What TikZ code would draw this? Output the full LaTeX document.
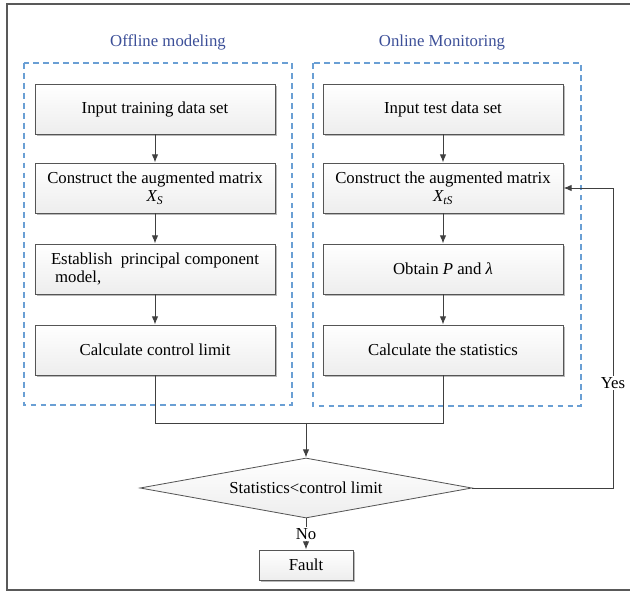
\documentclass[tikz,border=0pt]{standalone}
\usepackage{fontspec}
\setmainfont{Liberation Serif}
\usetikzlibrary{shapes.geometric,shadows,arrows.meta}

\begin{document}
\begin{tikzpicture}[x=0.03cm, y=-0.03cm,
  font=\fontsize{14.3}{15.5}\selectfont,
  stepbox/.style={draw=boxline, line width=0.7pt, top color=white, bottom color=gray!14,
    minimum width=7.2cm, minimum height=1.5cm, align=center, inner sep=2pt,
    drop shadow={shadow xshift=0.07cm, shadow yshift=-0.07cm, fill=gray!55, opacity=1}},
  groupbox/.style={draw=grpblue, line width=1.5pt, dash pattern=on 5pt off 3.5pt},
  grouptitle/.style={text=titleblue},
  conn/.style={draw=lineg, line width=0.8pt},
  arr/.style={conn, -{Latex[length=7pt, width=5.5pt]}}]

  % --- Farben ---
  \definecolor{boxline}{HTML}{555555}
  \definecolor{lineg}{HTML}{404040}
  \definecolor{grpblue}{HTML}{6A9FD4}
  \definecolor{titleblue}{HTML}{3C4F98}

  % --- Rahmen ---
  \useasboundingbox (0,0) rectangle (630,593);
  \draw[gray!70!black, line width=1.1pt] (632,4) -- (7,4) -- (7,590) -- (632,590);

  % --- Gruppen ---
  \draw[groupbox] (24,63) rectangle (292,405);
  \draw[groupbox] (313,63) rectangle (581,406);
  \node[grouptitle] (offtitle) at (168,42) {Offline modeling};
  \node[grouptitle] (ontitle) at (442,42) {Online Monitoring};

  % --- Offline ---
  \node[stepbox] (off1) at (155,109) {Input training data set};
  \node[stepbox] (off2) at (155,188) {Construct the augmented matrix\\ \textit{X\textsubscript{S}}};
  \node[stepbox, align=left] (off3) at (155,269) {Establish \ principal component\\ \ model,};
  \node[stepbox] (off4) at (155,350) {Calculate control limit};

  % --- Online ---
  \node[stepbox] (on1) at (443,109) {Input test data set};
  \node[stepbox] (on2) at (443,188) {Construct the augmented matrix\\ \textit{X\textsubscript{tS}}};
  \node[stepbox] (on3) at (443,269) {Obtain \textit{P} and \textit{λ}};
  \node[stepbox] (on4) at (443,350) {Calculate the statistics};

  % --- Entscheidung ---
  \node[diamond, draw=boxline, line width=0.7pt, top color=white, bottom color=gray!14,
    aspect=5.5, minimum width=9.96cm, minimum height=1.8cm, inner sep=0pt]
    (dec) at (306,488) {Statistics<control limit};
  \node[stepbox, minimum width=2.82cm, minimum height=0.9cm] (fault) at (306,565) {Fault};

  % --- Verbindungen ---
  \draw[arr] (off1) -- (off2);
  \draw[arr] (off2) -- (off3);
  \draw[arr] (off3) -- (off4);
  \draw[arr] (on1) -- (on2);
  \draw[arr] (on2) -- (on3);
  \draw[arr] (on3) -- (on4);

  \coordinate (join) at (306,423);
  \draw[conn] (off4) |- (join);
  \draw[conn] (on4) |- (join);
  \draw[arr] (join) -- (dec);

  \coordinate (yes) at (613,488);
  \draw[arr] (dec.east) -- (yes) |- node[pos=0.175, fill=white, inner sep=1pt] {Yes} (on2.east);
  \draw[arr] (dec) -- node[fill=white, inner sep=1pt] {No} (fault);

\end{tikzpicture}
\end{document}
